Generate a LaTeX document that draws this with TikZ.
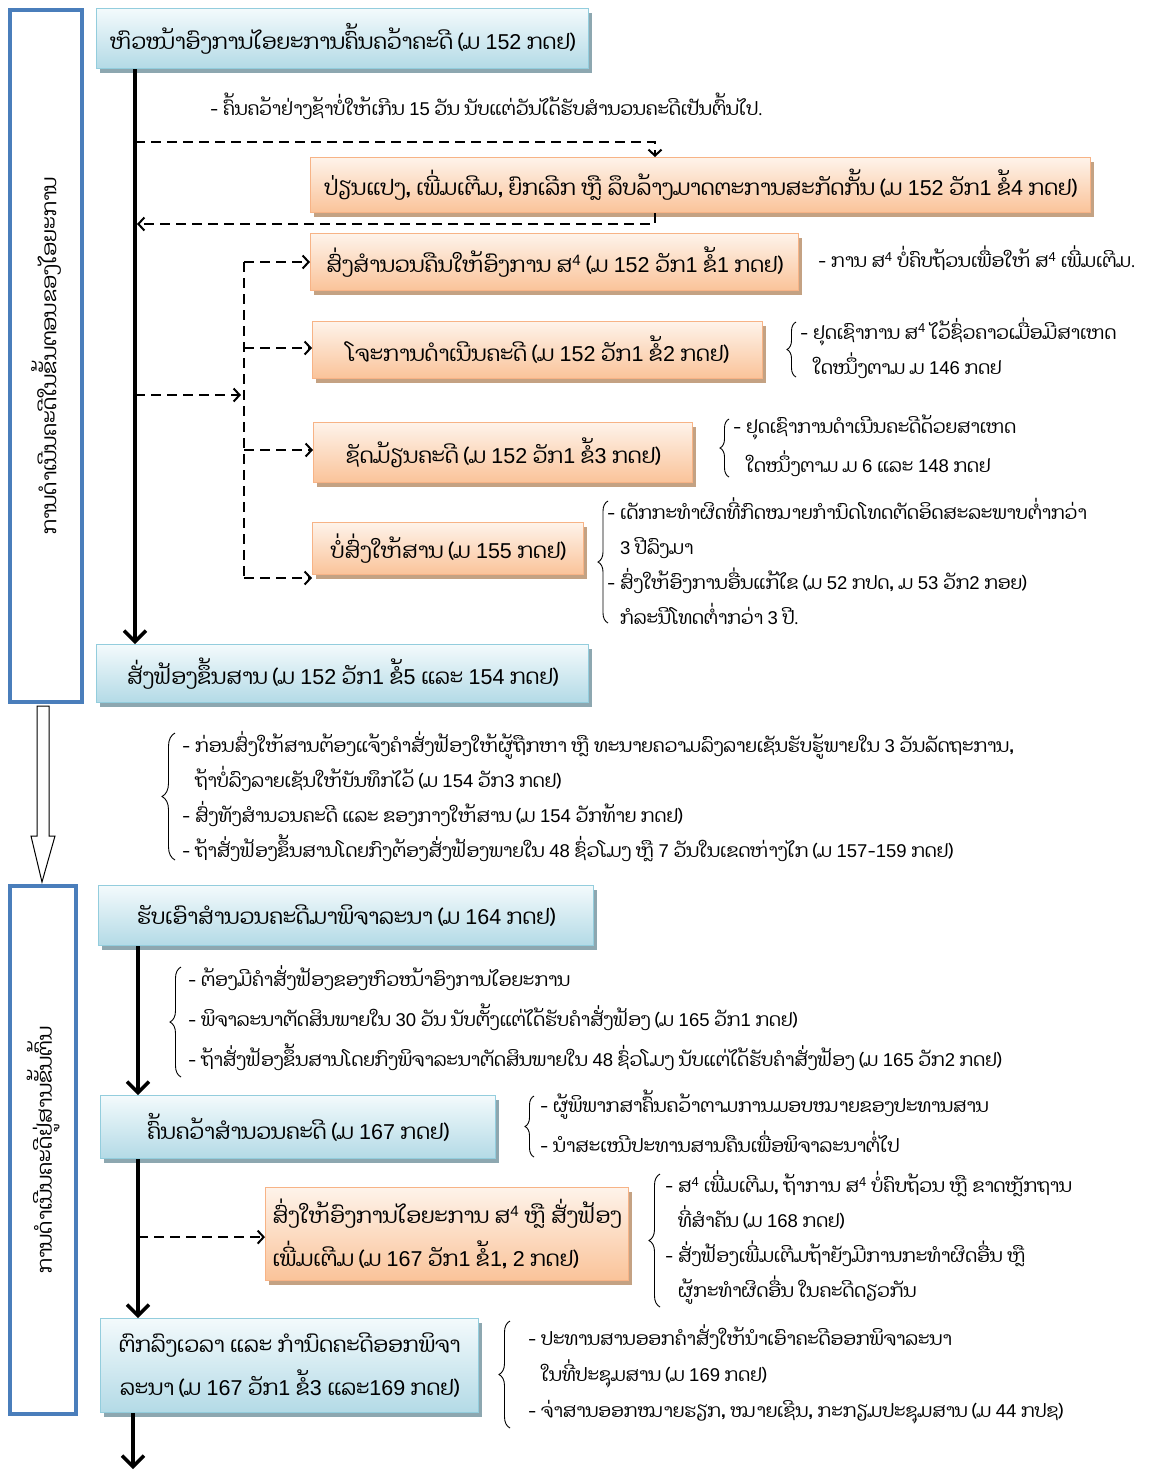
\documentclass[tikz,border=0pt]{standalone}
\usepackage{fontspec}
\setmainfont{Dhyana}[Script=Lao]
\newfontfamily\latinfont{Liberation Sans}
\XeTeXinterchartokenstate=1
\newXeTeXintercharclass\digitclass
\XeTeXcharclass`0=\digitclass
\XeTeXcharclass`1=\digitclass
\XeTeXcharclass`2=\digitclass
\XeTeXcharclass`3=\digitclass
\XeTeXcharclass`4=\digitclass
\XeTeXcharclass`5=\digitclass
\XeTeXcharclass`6=\digitclass
\XeTeXcharclass`7=\digitclass
\XeTeXcharclass`8=\digitclass
\XeTeXcharclass`9=\digitclass
\XeTeXinterchartoks 0 \digitclass = {\begingroup\latinfont}
\XeTeXinterchartoks 4095 \digitclass = {\begingroup\latinfont}
\XeTeXinterchartoks \digitclass 0 = {\endgroup}
\XeTeXinterchartoks \digitclass 4095 = {\endgroup}
\usetikzlibrary{arrows.meta,shadows,decorations.pathreplacing,calc}
\definecolor{bluetop}{HTML}{F3FAFC}
\definecolor{bluebot}{HTML}{B3DAE6}
\definecolor{blueedge}{HTML}{93CDDD}
\definecolor{blueshadow}{HTML}{8DA7B0}
\definecolor{orgtop}{HTML}{FEF3EA}
\definecolor{orgbot}{HTML}{FAC399}
\definecolor{orgedge}{HTML}{F7B386}
\definecolor{orgshadow}{HTML}{C4A283}
\definecolor{panelblue}{HTML}{4A7EBB}
\newcommand\boxfont{\fontsize{21.5}{43}\selectfont}
\newcommand\notefont{\fontsize{18.5}{35}\selectfont}
\newcommand\sfour{ສ\textsuperscript{4}}
\newcommand\ind{\phantom{- }}
\tikzset{
  boxbase/.style={anchor=north west, inner sep=0pt, line width=1.2pt, font=\boxfont},
  bluebox/.style={boxbase, draw=blueedge, top color=bluetop, bottom color=bluebot,
    drop shadow={shadow xshift=3pt, shadow yshift=-4pt, fill=blueshadow, opacity=1}},
  orangebox/.style={boxbase, draw=orgedge, top color=orgtop, bottom color=orgbot,
    drop shadow={shadow xshift=3pt, shadow yshift=-4pt, fill=orgshadow, opacity=1}},
  panelbox/.style={draw=panelblue, line width=4pt, anchor=north west, inner sep=0pt, fill=white},
  panellabel/.style={rotate=90, font={\fontsize{20.5}{24}\selectfont}, inner sep=0pt},
  mainarrow/.style={line width=3.5pt, -{Straight Barb[length=11pt,width=22pt,line width=3.5pt]}},
  dashline/.style={line width=2.5pt, dash pattern=on 10pt off 6pt},
  dasharrow/.style={dashline, -{Straight Barb[length=6pt,width=13pt,line width=2pt]}},
  note/.style={font=\notefont, align=left, anchor=west, inner sep=0pt},
  bracedec/.style={decorate, decoration={brace, amplitude=#1}, line width=0.9pt},
  bracedec/.default=9pt
}
\begin{document}
\begin{tikzpicture}[x=1pt,y=-1pt]
\useasboundingbox (0,0) rectangle (1152,1470);
% panels
\node[panelbox, minimum width=72pt, minimum height=692pt] (p1) at (8,8) {};
\node[panelbox, minimum width=66pt, minimum height=528pt] (p2) at (8,884) {};
\node[panellabel] (p1l) at (p1.center) {ການດຳເນີນຄະດີໃນຂັ້ນຕອນຂອງໄອຍະການ};
\node[panellabel] (p2l) at (p2.center) {ການດຳເນີນຄະດີຢູ່ສານຂັ້ນຕົ້ນ};
\draw[line width=1pt, fill=white]
  ($(p1.south)+(-9,2)$) -- ($(p1.south)+(-9,132)$) -- ($(p1.south)+(-15,132)$)
  -- ($(p2.north)+(-1,-2)$) -- ($(p1.south)+(9,132)$) -- ($(p1.south)+(3,132)$)
  -- ($(p1.south)+(3,2)$) -- cycle;

% boxes
\node[bluebox, minimum width=492pt, minimum height=60pt] (b1) at (96,8) {ຫົວໜ້າອົງການໄອຍະການຄົ້ນຄວ້າຄະດີ (ມ 152 ກດຢ)};
\node[orangebox, minimum width=780pt, minimum height=55pt] (b2) at (310,157) {ປ່ຽນແປງ, ເພີ່ມເຕີມ, ຍົກເລີກ ຫຼື ລຶບລ້າງມາດຕະການສະກັດກັ້ນ (ມ 152 ວັກ1 ຂໍ້4 ກດຢ)};
\node[orangebox, minimum width=488pt, minimum height=57pt] (b3) at (310,233) {ສົ່ງສຳນວນຄືນໃຫ້ອົງການ \sfour{} (ມ 152 ວັກ1 ຂໍ້1 ກດຢ)};
\node[orangebox, minimum width=450pt, minimum height=57pt] (b4) at (312,321) {ໂຈະການດຳເນີນຄະດີ (ມ 152 ວັກ1 ຂໍ້2 ກດຢ)};
\node[orangebox, minimum width=379pt, minimum height=60pt] (b5) at (313,422) {ຊັດມ້ຽນຄະດີ (ມ 152 ວັກ1 ຂໍ້3 ກດຢ)};
\node[orangebox, minimum width=271pt, minimum height=52pt] (b6) at (312,522) {ບໍ່ສົ່ງໃຫ້ສານ (ມ 155 ກດຢ)};
\node[bluebox, minimum width=492pt, minimum height=58pt] (b7) at (96,644) {ສັ່ງຟ້ອງຂຶ້ນສານ (ມ 152 ວັກ1 ຂໍ້5 ແລະ 154 ກດຢ)};
\node[bluebox, minimum width=495pt, minimum height=60pt] (b8) at (98,885) {ຮັບເອົາສຳນວນຄະດີມາພິຈາລະນາ (ມ 164 ກດຢ)};
\node[bluebox, minimum width=395pt, minimum height=63pt] (b9) at (100,1095) {ຄົ້ນຄວ້າສຳນວນຄະດີ (ມ 167 ກດຢ)};
\node[orangebox, minimum width=363pt, minimum height=93pt, align=left] (b10) at (265,1187) {ສົ່ງໃຫ້ອົງການໄອຍະການ \sfour{} ຫຼື ສັ່ງຟ້ອງ\\ເພີ່ມເຕີມ (ມ 167 ວັກ1 ຂໍ້1, 2 ກດຢ)};
\node[bluebox, minimum width=378pt, minimum height=94pt, align=center] (b11) at (100,1318) {ຕົກລົງເວລາ ແລະ ກຳນົດຄະດີອອກພິຈາ\\ລະນາ (ມ 167 ວັກ1 ຂໍ້3 ແລະ169 ກດຢ)};

% notes
\node[note] (n1) at (210,106) {- ຄົ້ນຄວ້າຢ່າງຊ້າບໍ່ໃຫ້ເກີນ 15 ວັນ ນັບແຕ່ວັນໄດ້ຮັບສຳນວນຄະດີເປັນຕົ້ນໄປ.};
\node[note] (n3) at (818,258) {- ການ \sfour{} ບໍ່ຄົບຖ້ວນເພື່ອໃຫ້ \sfour{} ເພີ່ມເຕີມ.};
\node[note] (n4) at (800,348) {- ຢຸດເຊົາການ \sfour{} ໄວ້ຊົ່ວຄາວເມື່ອມີສາເຫດ\\\ind ໃດໜຶ່ງຕາມ ມ 146 ກດຢ};
\node[note, font={\fontsize{18.5}{39}\selectfont}] (n5) at (733,446) {- ຢຸດເຊົາການດຳເນີນຄະດີດ້ວຍສາເຫດ\\\ind ໃດໜຶ່ງຕາມ ມ 6 ແລະ 148 ກດຢ};
\node[note] (n6) at (607,561) {- ເດັກກະທຳຜິດທີ່ກົດໝາຍກຳນົດໂທດຕັດອິດສະລະພາບຕ່ຳກວ່າ\\\ind 3 ປີລົງມາ\\- ສົ່ງໃຫ້ອົງການອື່ນແກ້ໄຂ (ມ 52 ກປດ, ມ 53 ວັກ2 ກອຍ)\\\ind ກໍລະນີໂທດຕ່ຳກວ່າ 3 ປີ.};
\node[note] (n7) at (182,797) {- ກ່ອນສົ່ງໃຫ້ສານຕ້ອງແຈ້ງຄຳສັ່ງຟ້ອງໃຫ້ຜູ້ຖືກຫາ ຫຼື ທະນາຍຄວາມລົງລາຍເຊັນຮັບຮູ້ພາຍໃນ 3 ວັນລັດຖະການ,\\\ind ຖ້າບໍ່ລົງລາຍເຊັນໃຫ້ບັນທຶກໄວ້ (ມ 154 ວັກ3 ກດຢ)\\- ສົ່ງທັງສຳນວນຄະດີ ແລະ ຂອງກາງໃຫ້ສານ (ມ 154 ວັກທ້າຍ ກດຢ)\\- ຖ້າສັ່ງຟ້ອງຂຶ້ນສານໂດຍກົງຕ້ອງສັ່ງຟ້ອງພາຍໃນ 48 ຊົ່ວໂມງ ຫຼື 7 ວັນໃນເຂດຫ່າງໄກ (ມ 157-159 ກດຢ)};
\node[note, font={\fontsize{18.5}{40}\selectfont}] (n8) at (188,1018) {- ຕ້ອງມີຄຳສັ່ງຟ້ອງຂອງຫົວໜ້າອົງການໄອຍະການ\\- ພິຈາລະນາຕັດສິນພາຍໃນ 30 ວັນ ນັບຕັ້ງແຕ່ໄດ້ຮັບຄຳສັ່ງຟ້ອງ (ມ 165 ວັກ1 ກດຢ)\\- ຖ້າສັ່ງຟ້ອງຂຶ້ນສານໂດຍກົງພິຈາລະນາຕັດສິນພາຍໃນ 48 ຊົ່ວໂມງ ນັບແຕ່ໄດ້ຮັບຄຳສັ່ງຟ້ອງ (ມ 165 ວັກ2 ກດຢ)};
\node[note, font={\fontsize{18.5}{40}\selectfont}] (n9) at (540,1122) {- ຜູ້ພິພາກສາຄົ້ນຄວ້າຕາມການມອບໝາຍຂອງປະທານສານ\\- ນຳສະເໜີປະທານສານຄືນເພື່ອພິຈາລະນາຕໍ່ໄປ};
\node[note] (n10) at (665,1238) {- \sfour{} ເພີ່ມເຕີມ, ຖ້າການ \sfour{} ບໍ່ຄົບຖ້ວນ ຫຼື ຂາດຫຼັກຖານ\\\ind ທີ່ສຳຄັນ (ມ 168 ກດຢ)\\- ສັ່ງຟ້ອງເພີ່ມເຕີມຖ້າຍັງມີການກະທຳຜິດອື່ນ ຫຼື\\\ind ຜູ້ກະທຳຜິດອື່ນ ໃນຄະດີດຽວກັນ};
\node[note, font={\fontsize{18.5}{36}\selectfont}] (n11) at (528,1374) {- ປະທານສານອອກຄຳສັ່ງໃຫ້ນຳເອົາຄະດີອອກພິຈາລະນາ\\\ind ໃນທີ່ປະຊຸມສານ (ມ 169 ກດຢ)\\- ຈ່າສານອອກໝາຍຮຽກ, ໝາຍເຊີນ, ກະກຽມປະຊຸມສານ (ມ 44 ກປຊ)};

% braces
\draw[bracedec=9pt]  (796,377) -- (796,322);
\draw[bracedec=9pt]  (729,477) -- (729,419);
\draw[bracedec=10pt] (608,623) -- (608,501);
\draw[bracedec=13pt] (175,860) -- (175,733);
\draw[bracedec=11pt] (181,1077) -- (181,967);
\draw[bracedec=9pt]  (534,1157) -- (534,1096);
\draw[bracedec=11pt] (660,1307) -- (660,1174);
\draw[bracedec=11pt] (510,1428) -- (510,1321);

% trunk 1
\coordinate (t0) at ([xshift=39pt]b1.south west);
\draw[mainarrow] (t0) -- (t0 |- b7.north);
\coordinate (t1) at (135,142);
\coordinate (t2) at (137,224);
\draw[dasharrow] (t1) -| ([xshift=345pt]b2.north west);
\draw[dasharrow] ([xshift=345pt]b2.south west) |- (t2);
\coordinate (t3) at (135,395);
\coordinate (j) at (241,395);
\draw[dasharrow] (t3) -- (j);
\coordinate (jtop) at (244,262);
\coordinate (j4) at (244,348);
\coordinate (j5) at (244,450);
\coordinate (jbot) at (244,578);
\draw[dashline] (jtop) -- (jbot);
\draw[dasharrow] (jtop) -- (jtop -| b3.west);
\draw[dasharrow] (j4) -- (j4 -| b4.west);
\draw[dasharrow] (j5) -- (j5 -| b5.west);
\draw[dasharrow] (jbot) -- (jbot -| b6.west);

% trunk 2
\coordinate (k0) at ([xshift=40pt]b8.south west);
\draw[mainarrow] (k0) -- (k0 |- b9.north);
\coordinate (k1) at ([xshift=38pt]b9.south west);
\draw[mainarrow] (k1) -- (k1 |- b11.north);
\coordinate (k2) at (k1 |- b10.west);
\draw[dasharrow] ([yshift=-3pt]k2) -- ([yshift=-3pt]b10.west);
\coordinate (k3) at ([xshift=33pt]b11.south west);
\coordinate (kend) at (133,1469);
\draw[mainarrow] (k3) -- (kend);
\end{tikzpicture}
\end{document}
